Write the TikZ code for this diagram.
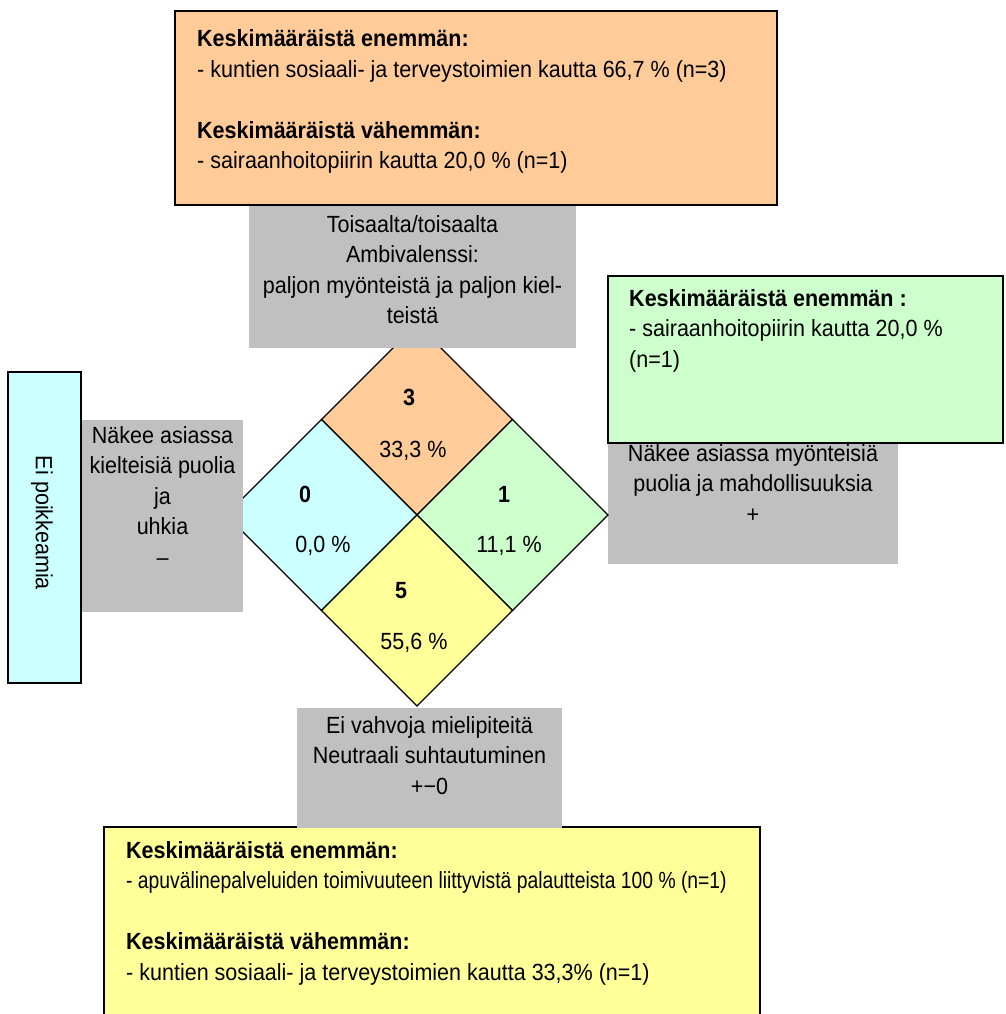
\documentclass[tikz,border=0pt]{standalone}
\usepackage{graphicx}
\usepackage{fontspec}
\setmainfont{Liberation Sans}[FakeStretch=0.92]
\definecolor{orangef}{HTML}{FFCC99}
\definecolor{cyanf}{HTML}{CCFFFF}
\definecolor{greenf}{HTML}{CCFFCC}
\definecolor{yellowf}{HTML}{FFFF99}
\definecolor{boxgray}{HTML}{C0C0C0}
\newcommand\dfs{\fontsize{23.4}{30.5}\selectfont}
\begin{document}
\begin{tikzpicture}[x=1pt,y=-1pt,
  box/.style={draw=black, line width=1.6pt, inner sep=0pt, outer sep=0pt, anchor=north west},
  graybox/.style={fill=boxgray, draw=none, inner sep=0pt, outer sep=0pt, anchor=north west},
  txt/.style={inner sep=0pt, anchor=base west, font=\dfs},
  ctxt/.style={inner sep=0pt, anchor=base, font=\dfs},
  quad/.style={draw=black, line width=1.3pt, line join=miter},
  num/.style={inner sep=0pt, anchor=base, font=\dfs\bfseries},
  pct/.style={inner sep=0pt, anchor=base, font=\dfs}]
\useasboundingbox (0,0) rectangle (1005,1014);
\clip (0,0) rectangle (1005,1014);
\fill[white] (0,0) rectangle (1005,1014);

% coloured boxes
\node[box, fill=orangef, minimum width=602pt, minimum height=194pt] (obox) at (175,11) {};
\node[box, fill=yellowf, minimum width=656pt, minimum height=200pt] (ybox) at (104,827) {};
\node[graybox, minimum width=290pt, minimum height=121pt] (rgray) at (608,443) {};
\node[box, fill=greenf, minimum width=395pt, minimum height=167pt] (gbox) at (608,276) {};
\node[box, fill=cyanf, minimum width=73pt, minimum height=311pt] (cbox) at (8,372) {};

% diamond
\coordinate (dt) at (417,324);
\coordinate (dl) at (226,515);
\coordinate (dr) at (608,515);
\coordinate (db) at (417,706);
\coordinate (dc) at (417,515);
\coordinate (dtl) at (321.5,419.5);
\coordinate (dtr) at (512.5,419.5);
\coordinate (dbl) at (321.5,610.5);
\coordinate (dbr) at (512.5,610.5);
\filldraw[quad, fill=orangef] (dt) -- (dtr) -- (dc) -- (dtl) -- cycle;
\filldraw[quad, fill=cyanf] (dtl) -- (dc) -- (dbl) -- (dl) -- cycle;
\filldraw[quad, fill=greenf] (dtr) -- (dr) -- (dbr) -- (dc) -- cycle;
\filldraw[quad, fill=yellowf] (dc) -- (dbr) -- (db) -- (dbl) -- cycle;

% gray boxes
\node[graybox, minimum width=327pt, minimum height=142pt] (tgray) at (249,206) {};
\node[graybox, minimum width=161pt, minimum height=192pt] (lgray) at (82,420) {};
\node[graybox, minimum width=265pt, minimum height=120pt] (bgray) at (297,708) {};

% texts
\node[txt] (otext) at (197,46.7) {\begin{tabular}[t]{@{}l@{}}\textbf{Keskimääräistä enemmän:}\\- kuntien sosiaali- ja terveystoimien kautta 66,7 \% (n=3)\\ \\ \textbf{Keskimääräistä vähemmän:}\\- sairaanhoitopiirin kautta 20,0 \% (n=1)\end{tabular}};
\node[txt] (gtext) at (629,306) {\begin{tabular}[t]{@{}l@{}}\textbf{Keskimääräistä enemmän :}\\- sairaanhoitopiirin kautta 20,0 \%\\(n=1)\end{tabular}};
\node[txt] (ytext) at (126,858) {\begin{tabular}[t]{@{}l@{}}\textbf{Keskimääräistä enemmän:}\\\scalebox{0.897}[1]{- apuvälinepalveluiden toimivuuteen liittyvistä palautteista 100 \% (n=1)}\\ \\ \textbf{Keskimääräistä vähemmän:}\\- kuntien sosiaali- ja terveystoimien kautta 33,3\% (n=1)\end{tabular}};
\node[ctxt] (ttext) at (412.5,232) {\begin{tabular}[t]{@{}c@{}}Toisaalta/toisaalta\\Ambivalenssi:\\paljon myönteistä ja paljon kiel-\\teistä\end{tabular}};
\node[ctxt] (ltext) at (162.5,443) {\begin{tabular}[t]{@{}c@{}}Näkee asiassa\\kielteisiä puolia\\ja\\uhkia\\–\end{tabular}};
\node[ctxt] (rtext) at (753,461) {\begin{tabular}[t]{@{}c@{}}Näkee asiassa myönteisiä\\puolia ja mahdollisuuksia\\+\end{tabular}};
\node[ctxt] (btext) at (429.5,733) {\begin{tabular}[t]{@{}c@{}}Ei vahvoja mielipiteitä\\Neutraali suhtautuminen\\+−0\end{tabular}};
\node[inner sep=0pt, font=\dfs, rotate=-90] (ctext) at (42,523) {Ei poikkeamia};

% diamond labels
\node[num] (n3) at (409,405) {3};
\node[pct] (p3) at (413,457) {33,3 \%};
\node[num] (n0) at (305,502) {0};
\node[pct] (p0) at (323,552) {0,0 \%};
\node[num] (n1) at (504,502) {1};
\node[pct] (p1) at (509,552) {11,1 \%};
\node[num] (n5) at (401,598) {5};
\node[pct] (p5) at (414,649) {55,6 \%};
\end{tikzpicture}
\end{document}
